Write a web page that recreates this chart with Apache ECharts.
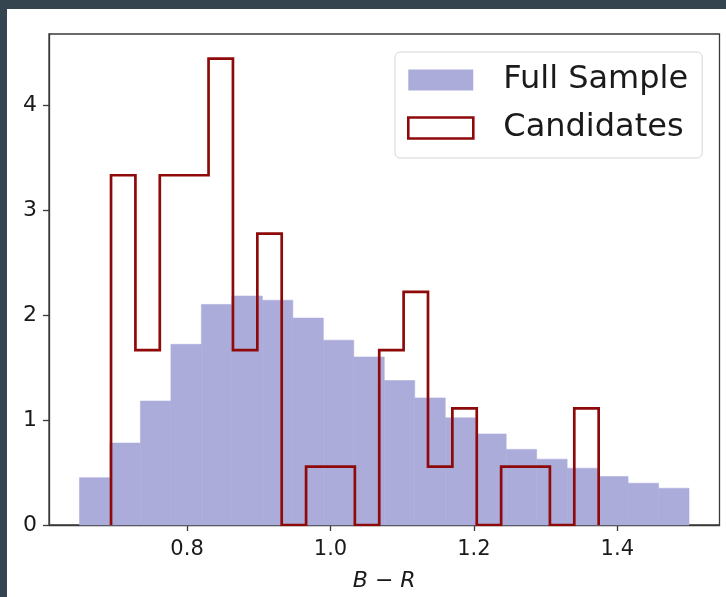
<!DOCTYPE html>
<html>
<head>
<meta charset="utf-8">
<script src="https://cdn.jsdelivr.net/npm/echarts@6/dist/echarts.min.js"></script>
<style>
  html, body { margin: 0; padding: 0; width: 726px; height: 597px; background: #344550; overflow: hidden; }
  #chart { position: absolute; left: 7px; top: 9px; width: 719px; height: 588px; background: #ffffff; }
</style>
</head>
<body>
<div id="chart"></div>
<script>
// Full sample: density histogram, 20 bins
const sampleEdges = [0.65, 0.6925, 0.735, 0.7775, 0.82, 0.8625, 0.905, 0.9475, 0.99, 1.0325,
  1.075, 1.1175, 1.16, 1.2025, 1.245, 1.2875, 1.33, 1.3725, 1.415, 1.4575, 1.5];
const sampleDensity = [0.45, 0.78, 1.18, 1.72, 2.10, 2.18, 2.14, 1.97, 1.76, 1.60,
  1.375, 1.21, 1.02, 0.866, 0.72, 0.627, 0.541, 0.461, 0.398, 0.35];

// Candidates: density histogram, 20 bins, drawn as a step outline
const candEdges = [0.694, 0.728, 0.762, 0.796, 0.830, 0.864, 0.898, 0.932, 0.966, 1.000,
  1.034, 1.068, 1.102, 1.136, 1.170, 1.204, 1.238, 1.272, 1.306, 1.340, 1.374];
const candDensity = [3.33, 1.665, 3.33, 3.33, 4.44, 1.665, 2.775, 0, 0.555, 0.555,
  0, 1.665, 2.22, 0.555, 1.11, 0, 0.555, 0.555, 0, 1.11];

const xTicks = [0.8, 1.0, 1.2, 1.4];
const yTicks = [0, 1, 2, 3, 4];

const FILL = '#acacdb';
const EDGE = '#8e0a0a';
const AXIS = '#3a3a3a';
const FONT = 'DejaVu Sans';

const sampleBars = sampleDensity.map((h, i) => [sampleEdges[i], sampleEdges[i + 1], h]);

// outline path: rise at first edge, step across each bin, drop at last edge
const candPath = [[candEdges[0], 0]];
candDensity.forEach((h, i) => {
  candPath.push([candEdges[i], h]);
  candPath.push([candEdges[i + 1], h]);
});
candPath.push([candEdges[candEdges.length - 1], 0]);

const chart = echarts.init(document.getElementById('chart'), null, { renderer: 'canvas' });

chart.setOption({
  animation: false,
  backgroundColor: '#ffffff',
  textStyle: { fontFamily: FONT },
  grid: {
    left: 42, top: 25, right: 6.5, bottom: 70,
    show: true, borderColor: AXIS, borderWidth: 1.3, backgroundColor: 'transparent'
  },
  legend: {
    orient: 'vertical',
    left: 388, top: 43,
    padding: [12, 14, 14, 12],
    itemGap: 16,
    itemWidth: 65, itemHeight: 21,
    backgroundColor: 'rgba(255,255,255,0.85)',
    borderColor: '#d6d6d6', borderWidth: 1, borderRadius: 5,
    textStyle: { fontFamily: FONT, fontSize: 32, color: '#1a1a1a', lineHeight: 31, padding: [0, 0, 0, 25] },
    data: [
      { name: 'Full Sample', icon: 'rect', itemStyle: { color: FILL, borderWidth: 0 } },
      { name: 'Candidates', icon: 'rect',
        itemStyle: { color: 'rgba(255,255,255,0)', borderColor: EDGE, borderWidth: 2.6 },
        lineStyle: { opacity: 0 } }
    ]
  },
  xAxis: {
    type: 'value',
    min: 0.6075, max: 1.5425,
    name: '{i|B} − {i|R}',
    nameLocation: 'middle',
    nameGap: 45,
    nameTextStyle: {
      fontFamily: FONT, fontSize: 22, color: '#1a1a1a',
      rich: { i: { fontFamily: FONT, fontSize: 22, fontStyle: 'italic', color: '#1a1a1a' } }
    },
    axisLine: { show: true, lineStyle: { color: AXIS, width: 1.3 } },
    axisTick: { show: true, length: 6, inside: false, customValues: xTicks, lineStyle: { color: AXIS, width: 1.3 } },
    axisLabel: {
      customValues: xTicks, margin: 14, fontFamily: FONT, fontSize: 21, color: '#1a1a1a',
      formatter: v => Number(v).toFixed(1)
    },
    splitLine: { show: false }
  },
  yAxis: {
    type: 'value',
    min: 0, max: 4.675,
    axisLine: { show: true, lineStyle: { color: AXIS, width: 1.3 } },
    axisTick: { show: true, length: 6, inside: false, customValues: yTicks, lineStyle: { color: AXIS, width: 1.3 } },
    axisLabel: {
      customValues: yTicks, margin: 12, fontFamily: FONT, fontSize: 22, color: '#1a1a1a',
      formatter: v => String(Math.round(v))
    },
    splitLine: { show: false }
  },
  series: [
    {
      name: 'Full Sample',
      type: 'custom',
      z: 2,
      encode: { x: [0, 1], y: 2 },
      data: sampleBars,
      renderItem: (params, api) => {
        const a = api.coord([api.value(0), api.value(2)]);
        const b = api.coord([api.value(1), 0]);
        return {
          type: 'rect',
          shape: { x: a[0], y: a[1], width: b[0] - a[0], height: b[1] - a[1] },
          style: { fill: FILL, stroke: FILL, lineWidth: 0.6 }
        };
      },
      itemStyle: { color: FILL }
    },
    {
      name: 'Candidates',
      type: 'line',
      z: 3,
      data: candPath,
      symbol: 'none',
      showSymbol: false,
      lineStyle: { color: EDGE, width: 2.7, join: 'miter' },
      itemStyle: { color: EDGE }
    }
  ]
});
</script>
</body>
</html>
